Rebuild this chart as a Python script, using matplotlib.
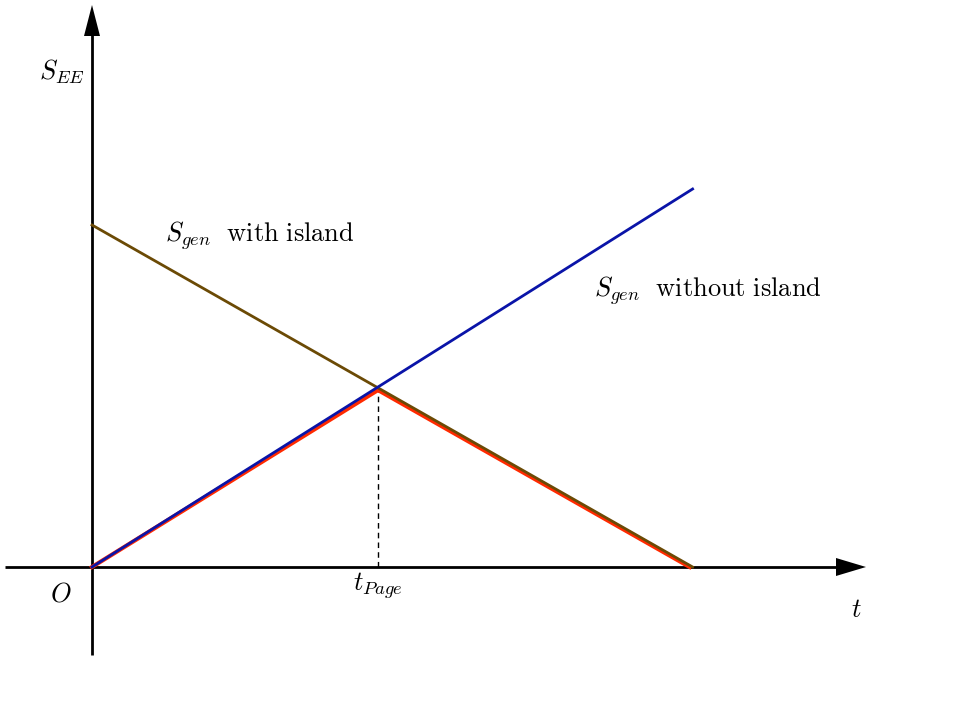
import matplotlib
matplotlib.use("Agg")
import matplotlib.pyplot as plt
import numpy as np

plt.rcParams['mathtext.fontset'] = 'cm'

# data (t in units of t_Page, S in arbitrary units)
t_page = 1.0
t_end = 2.1
t_without = [0.0, t_end]
S_without = [0.0, 2.1]
t_with = [0.0, t_end]
S_with = [1.9, 0.0]
t_page_curve = [0.0, t_page, 2.09]
S_page_curve = [0.0, 0.983, 0.0]

fig = plt.figure(figsize=(9.72, 7.09), dpi=100)
ax = fig.add_axes([0, 0, 1, 1])
ax.set_xlim(-92/286, (972-92)/286)
ax.set_ylim((567-709)/180, 567/180)
ax.axis('off')

# axes arrows
ax.plot([-87/286, (840-92)/286], [0, 0], color='black', lw=2, solid_capstyle='butt')
ax.plot([0, 0], [(567-655)/180, (567-34)/180], color='black', lw=2, solid_capstyle='butt')
ax.add_patch(plt.Polygon([[(836-92)/286, 9/180], [(866-92)/286, 0], [(836-92)/286, -9/180]],
                         closed=True, color='black', lw=0))
ax.add_patch(plt.Polygon([[-8/286, (567-36)/180], [0, (567-5)/180], [8/286, (567-36)/180]],
                         closed=True, color='black', lw=0))

# curves
ax.plot(t_page_curve, S_page_curve, color='#ff2a00', lw=3.0, zorder=3)
ax.plot(t_with, S_with, color='#6b4a05', lw=2.0, zorder=4)
ax.plot(t_without, S_without, color='#0a14a8', lw=2.0, zorder=5)
ax.plot([t_page, t_page], [0, S_page_curve[1]], color='black', lw=1.0, ls=(0, (4, 3)), zorder=2)

fs = 19
ax.text(-30/286, (567-72)/180, r'$S_{EE}$', fontsize=fs, ha='center', va='center')
ax.text((165-92)/286, (567-236)/180, r'$S_{gen}\ \ \mathrm{with\ island}$', fontsize=fs, ha='left', va='center')
ax.text((594-92)/286, (567-291)/180, r'$S_{gen}\ \ \mathrm{without\ island}$', fontsize=fs, ha='left', va='center')
ax.text(t_page, (567-586)/180, r'$t_{Page}$', fontsize=fs, ha='center', va='center')
ax.text(-31/286, (567-595)/180, r'$O$', fontsize=fs, ha='center', va='center')
ax.text((856-92)/286, (567-610)/180, r'$t$', fontsize=fs, ha='center', va='center')

fig.savefig('out.png', dpi=100)
